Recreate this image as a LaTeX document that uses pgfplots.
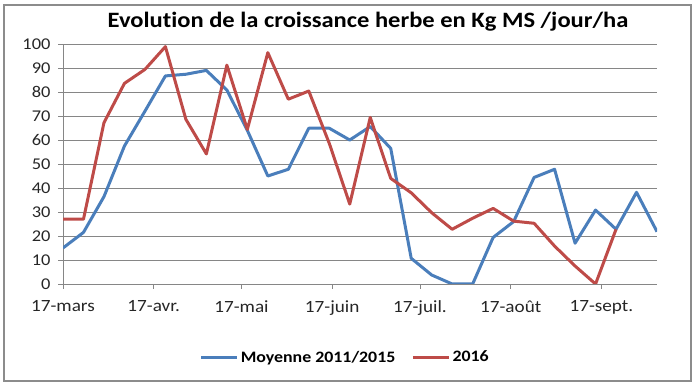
\documentclass[border=0pt]{standalone}
\usepackage{pgfplots}
\pgfplotsset{compat=1.18}
\usepackage{fontspec}
\setmainfont{Carlito}[FakeStretch=1.12, Ligatures=NoCommon]
\definecolor{serA}{RGB}{74,126,187}
\definecolor{serB}{RGB}{190,75,72}
\definecolor{gridc}{RGB}{134,134,134}
\definecolor{framec}{RGB}{140,140,140}
\begin{document}
\begin{tikzpicture}
\path[use as bounding box] (0bp,0bp) rectangle (699bp,387bp);
\draw[framec, line width=1.5bp] (4bp,6bp) rectangle (691bp,382bp);
\node[font=\fontsize{22}{26}\selectfont\bfseries] at (368bp,365bp) {Evolution de la croissance herbe en Kg MS /jour/ha};
\begin{axis}[
  at={(63bp,103bp)}, anchor=south west,
  scale only axis, width=594bp, height=240bp,
  xmin=0, xmax=203, ymin=0, ymax=100,
  xtick={0,31,61,92,122,153,184},
  xticklabels={17-mars,17-avr.,17-mai,17-juin,17-juil.,17-août,17-sept.},
  ytick={0,10,...,100},
  ymajorgrids, grid style={gridc, line width=0.8bp},
  axis x line*=bottom, axis y line*=left,
  axis line style={gridc, line width=0.8bp},
  tick style={gridc, line width=0.8bp},
  tick align=outside, major tick length=5bp,
  /pgf/number format/assume math mode=true,
  tick label style={text=black!85},
  xticklabel style={font=\fontsize{17.2}{20}\selectfont, yshift=-8bp},
  yticklabel style={font=\fontsize{16.5}{19}\selectfont, xshift=-4bp},
  legend columns=2,
  legend style={at={(0.475,-0.305)}, anchor=center, draw=none, fill=none,
    font=\fontsize{16}{19}\selectfont\bfseries,
    /tikz/every even column/.append style={column sep=14bp}},
  legend image code/.code={\draw[#1, line width=3.2bp] (0bp,0bp) -- (36bp,0bp);},
  every axis plot/.append style={line width=3bp, line join=round, no markers},
]
\addplot[serA] coordinates {
(0,15) (7,21.5) (14,36.4) (21,57.5) (28,72) (35,86.7) (42,87.4) (49,89) (56,80.8) (63,64)
(70,45) (77,47.8) (84,64.9) (91,64.9) (98,60) (105,65.6) (112,56.5) (119,10.7) (126,3.75) (133,0)
(140,0) (147,19.4) (154,26) (161,44.4) (168,47.8) (175,17) (182,30.8) (189,22.8) (196,38.2) (203,21.8)
};
\addlegendentry{Moyenne 2011/2015}
\addplot[serB] coordinates {
(0,27) (7,27) (14,67.2) (21,83.6) (28,89.4) (35,98.9) (42,68.6) (49,54.2) (56,91.2) (63,64.4)
(70,96.4) (77,77) (84,80.4) (91,58.6) (98,33.3) (105,69.4) (112,44) (119,38) (126,29.7) (133,22.8)
(140,27.4) (147,31.5) (154,26.2) (161,25.3) (168,15.8) (175,7.5) (182,0) (189,22.8)
};
\addlegendentry{2016}
\end{axis}
\end{tikzpicture}
\end{document}
